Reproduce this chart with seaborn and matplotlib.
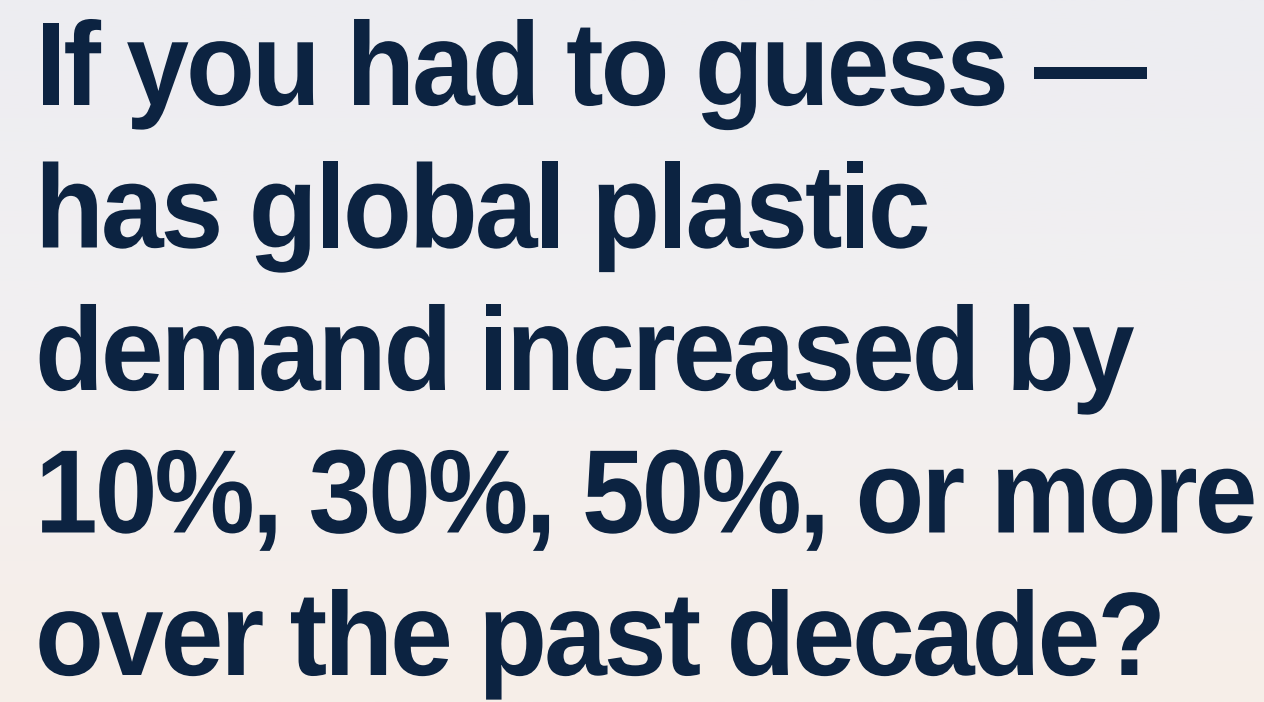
import numpy as np
import matplotlib
matplotlib.use("Agg")
import matplotlib.pyplot as plt
import seaborn as sns
from matplotlib.colors import LinearSegmentedColormap
from matplotlib.font_manager import FontProperties, findfont, get_font
from matplotlib.textpath import TextPath
from matplotlib.patches import PathPatch
from matplotlib.transforms import Affine2D

sns.set_theme(style="white")
plt.rcParams['font.family'] = ['Liberation Sans', 'DejaVu Sans']

# Text lines of the card
lines = [
    "If you had to guess —",
    "has global plastic",
    "demand increased by",
    "10%, 30%, 50%, or more",
    "over the past decade?",
]

text_color = "#0c2341"
bg_top = "#ededf1"
bg_bottom = "#f7eee8"

em = 118.7        # font size in pixels
squeeze = 0.95    # slightly condensed glyphs
tracking = -3.0   # tight letter spacing, pixels
x_left = 35
first_baseline = 105
pitch = 142.5

prop = FontProperties(family="Liberation Sans", weight="bold")
ft = get_font(findfont(prop))


def advance(ch):
    # the font object is cached and shared with TextPath, so reset the size each time
    ft.set_size(em, 72)
    g = ft.load_char(ord(ch))
    return g.linearHoriAdvance / 65536


fig = plt.figure(figsize=(12.64, 7.02), dpi=100)
ax = fig.add_axes([0, 0, 1, 1])

# soft vertical gradient background
grad = np.linspace(0, 1, 256).reshape(-1, 1)
cmap = LinearSegmentedColormap.from_list("bg", [bg_top, "#f2f0f1", bg_bottom])
ax.imshow(grad, aspect="auto", cmap=cmap, extent=[0, 1264, 702, 0])

ax.set_xlim(0, 1264)
ax.set_ylim(702, 0)
ax.axis("off")

for i, line in enumerate(lines):
    baseline = first_baseline + i * pitch
    x = x_left
    for ch in line:
        step = advance(ch) * squeeze + tracking
        if ch != " ":
            path = TextPath((0, 0), ch, size=em, prop=prop)
            tr = Affine2D().scale(squeeze, -1).translate(x, baseline) + ax.transData
            ax.add_patch(PathPatch(path, facecolor=text_color, edgecolor="none",
                                   transform=tr))
        x += step

plt.savefig("out.png", dpi=100)
